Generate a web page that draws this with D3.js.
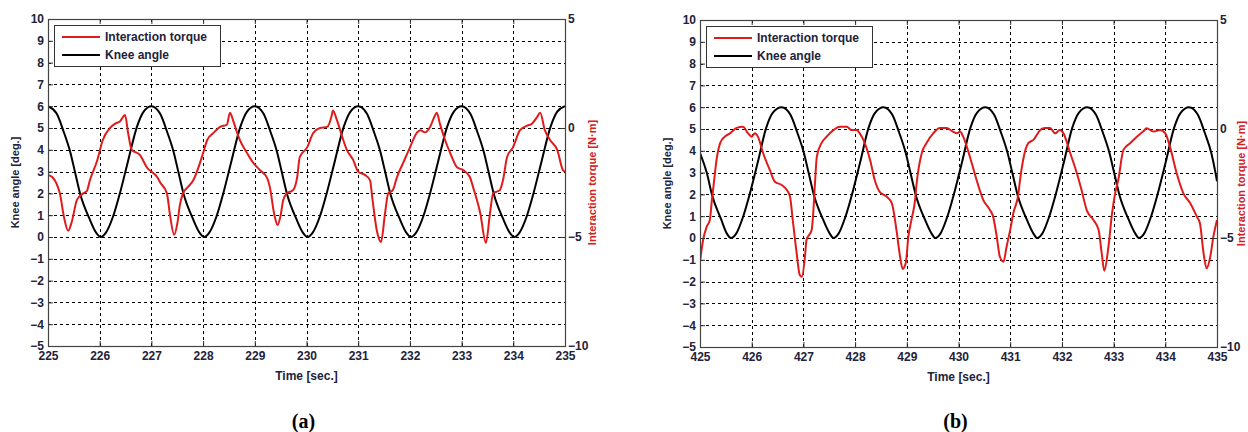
<!DOCTYPE html>
<html>
<head>
<meta charset="utf-8">
<script src="https://cdn.jsdelivr.net/npm/d3@7"></script>
<style>
  body { margin: 0; background: #fff; }
  svg { display: block; }
</style>
</head>
<body>
<div id="chart"></div>
<script>
// tick values
const angleTicks = [-5, -4, -3, -2, -1, 0, 1, 2, 3, 4, 5, 6, 7, 8, 9, 10];
const torqueTicks = [-10, -5, 0, 5];
const timeTicksA = [225, 226, 227, 228, 229, 230, 231, 232, 233, 234, 235];
const timeTicksB = [425, 426, 427, 428, 429, 430, 431, 432, 433, 434, 435];
const legendLabels = ["Interaction torque", "Knee angle"];

// knee angle [deg.] — [time, value]
const kneeA = [
  [225, 6], [225.17, 5.65], [225.3, 4.85], [225.43, 3.9], [225.52, 3.0], [225.62, 2.0], [225.8, 0.85], [225.93, 0.2],
  [226.02, 0], [226.12, 0.2], [226.26, 0.95], [226.39, 2.0], [226.55, 3.5], [226.72, 5.05], [226.85, 5.75],
  [227, 6], [227.17, 5.65], [227.3, 4.85], [227.43, 3.9], [227.52, 3.0], [227.62, 2.0], [227.8, 0.85], [227.93, 0.2],
  [228.02, 0], [228.12, 0.2], [228.26, 0.95], [228.39, 2.0], [228.55, 3.5], [228.72, 5.05], [228.85, 5.75],
  [229, 6], [229.17, 5.65], [229.3, 4.85], [229.43, 3.9], [229.52, 3.0], [229.62, 2.0], [229.8, 0.85], [229.93, 0.2],
  [230.02, 0], [230.12, 0.2], [230.26, 0.95], [230.39, 2.0], [230.55, 3.5], [230.72, 5.05], [230.85, 5.75],
  [231, 6], [231.17, 5.65], [231.3, 4.85], [231.43, 3.9], [231.52, 3.0], [231.62, 2.0], [231.8, 0.85], [231.93, 0.2],
  [232.02, 0], [232.12, 0.2], [232.26, 0.95], [232.39, 2.0], [232.55, 3.5], [232.72, 5.05], [232.85, 5.75],
  [233, 6], [233.17, 5.65], [233.3, 4.85], [233.43, 3.9], [233.52, 3.0], [233.62, 2.0], [233.8, 0.85], [233.93, 0.2],
  [234.02, 0], [234.12, 0.2], [234.26, 0.95], [234.39, 2.0], [234.55, 3.5], [234.72, 5.05], [234.85, 5.75],
  [235, 6]
];

// interaction torque [N·m] — panel (a)
const torqueA = [
  [225.00, -2.16], [225.08, -2.25], [225.19, -2.7], [225.23, -3.0], [225.31, -4.1], [225.39, -4.71], [225.46, -4.3],
  [225.56, -3.3], [225.68, -3.0], [225.75, -2.9], [225.81, -2.4], [225.95, -1.5], [226.06, -0.55], [226.20, 0.0],
  [226.30, 0.2], [226.39, 0.3], [226.49, 0.6], [226.55, -0.23], [226.62, -1.0], [226.78, -1.24], [226.91, -1.8],
  [227.11, -2.25], [227.17, -2.5], [227.30, -3.0], [227.36, -4.0], [227.44, -4.9], [227.50, -4.4], [227.55, -3.55],
  [227.61, -3.0], [227.69, -2.75], [227.81, -2.4], [227.94, -1.6], [228.00, -1.15], [228.08, -0.55], [228.20, -0.23],
  [228.33, 0.05], [228.46, 0.15], [228.52, 0.7], [228.58, 0.35], [228.66, -0.23], [228.71, -0.55], [228.85, -1.15],
  [228.97, -1.6], [229.10, -1.93], [229.24, -2.3], [229.29, -2.7], [229.38, -4.0], [229.44, -4.45], [229.50, -4.0],
  [229.55, -3.3], [229.62, -3.0], [229.74, -2.85], [229.82, -2.25], [229.87, -1.33], [230.01, -0.9], [230.13, -0.23],
  [230.26, 0.0], [230.40, 0.05], [230.49, 0.6], [230.51, 0.8], [230.59, 0.35], [230.69, -0.4], [230.78, -1.0],
  [230.90, -1.45], [231.00, -2.0], [231.13, -2.15], [231.23, -2.4], [231.27, -3.15], [231.36, -4.7], [231.44, -5.23],
  [231.52, -3.9], [231.58, -3.0], [231.67, -2.85], [231.75, -2.25], [231.87, -1.6], [232.00, -0.9], [232.14, -0.2],
  [232.20, -0.1], [232.29, -0.2], [232.39, 0.05], [232.49, 0.6], [232.52, 0.7], [232.58, 0.2], [232.68, -0.55],
  [232.78, -1.15], [232.91, -1.8], [233.03, -1.93], [233.16, -2.25], [233.22, -2.7], [233.36, -3.9], [233.47, -5.27],
  [233.55, -3.9], [233.61, -3.0], [233.74, -2.85], [233.80, -2.4], [233.88, -1.33], [233.99, -0.9], [234.13, -0.1],
  [234.26, 0.1], [234.36, 0.2], [234.46, 0.5], [234.52, 0.7], [234.61, -0.1], [234.71, -0.55], [234.85, -1.0],
  [234.96, -1.93], [235.00, -2.0]
];

// knee angle [deg.] — panel (b)
const kneeB = [
  [425, 3.9], [425.13, 3.0], [425.23, 2.0], [425.41, 0.85], [425.52, 0.2],
  [425.6, 0], [425.7, 0.2], [425.83, 0.95], [425.96, 2.0], [426.12, 3.5], [426.28, 5.05], [426.41, 5.75],
  [426.58, 6], [426.75, 5.65], [426.88, 4.85], [427.01, 3.9], [427.1, 3.0], [427.2, 2.0], [427.38, 0.85], [427.51, 0.2],
  [427.58, 0], [427.68, 0.2], [427.81, 0.95], [427.94, 2.0], [428.1, 3.5], [428.26, 5.05], [428.39, 5.75],
  [428.55, 6], [428.72, 5.65], [428.85, 4.85], [428.98, 3.9], [429.07, 3.0], [429.17, 2.0], [429.35, 0.85], [429.48, 0.2],
  [429.55, 0], [429.65, 0.2], [429.78, 0.95], [429.91, 2.0], [430.07, 3.5], [430.23, 5.05], [430.36, 5.75],
  [430.52, 6], [430.69, 5.65], [430.82, 4.85], [430.95, 3.9], [431.04, 3.0], [431.14, 2.0], [431.32, 0.85], [431.45, 0.2],
  [431.52, 0], [431.62, 0.2], [431.75, 0.95], [431.88, 2.0], [432.04, 3.5], [432.2, 5.05], [432.33, 5.75],
  [432.49, 6], [432.66, 5.65], [432.79, 4.85], [432.92, 3.9], [433.01, 3.0], [433.11, 2.0], [433.29, 0.85], [433.42, 0.2],
  [433.49, 0], [433.59, 0.2], [433.72, 0.95], [433.85, 2.0], [434.01, 3.5], [434.17, 5.05], [434.3, 5.75],
  [434.46, 6], [434.63, 5.65], [434.76, 4.85], [434.89, 3.9], [434.97, 3.0], [435, 2.6]
];

// interaction torque [N·m] — panel (b)
const torqueB = [
  [425.00, -6.09], [425.06, -5.09], [425.13, -4.48], [425.19, -4.17], [425.23, -3.26], [425.26, -2.65], [425.32, -1.42],
  [425.39, -0.65], [425.48, -0.35], [425.58, -0.2], [425.71, 0.05], [425.83, 0.1], [425.93, -0.2], [426.00, -0.35],
  [426.06, -0.2], [426.12, -0.35], [426.22, -1.1], [426.35, -1.88], [426.45, -2.42], [426.58, -2.57], [426.68, -2.8],
  [426.74, -3.1], [426.80, -4.3], [426.87, -5.7], [426.93, -6.7], [426.97, -6.78], [427.03, -5.86], [427.06, -5.09],
  [427.16, -4.63], [427.19, -3.87], [427.22, -2.65], [427.26, -1.27], [427.35, -0.65], [427.45, -0.35], [427.58, -0.05],
  [427.71, 0.1], [427.84, 0.1], [427.93, -0.05], [428.03, -0.05], [428.09, -0.2], [428.16, -0.5], [428.29, -1.42],
  [428.38, -2.34], [428.48, -2.9], [428.61, -3.1], [428.71, -3.4], [428.80, -4.63], [428.87, -5.86], [428.92, -6.42],
  [428.98, -6.15], [429.03, -4.94], [429.09, -4.17], [429.16, -3.26], [429.19, -2.5], [429.29, -1.1], [429.38, -0.65],
  [429.51, -0.2], [429.64, 0.05], [429.77, 0.05], [429.89, -0.12], [429.97, -0.2], [430.03, -0.12], [430.09, -0.35],
  [430.22, -1.27], [430.35, -2.34], [430.48, -3.26], [430.61, -3.72], [430.67, -4.02], [430.74, -4.94], [430.80, -5.86],
  [430.87, -6.09], [430.93, -5.4], [431.00, -4.63], [431.06, -3.87], [431.16, -2.95], [431.19, -2.34], [431.25, -1.42],
  [431.35, -0.65], [431.45, -0.5], [431.58, -0.05], [431.67, 0.05], [431.77, 0.05], [431.87, -0.2], [431.96, -0.05],
  [432.03, -0.2], [432.16, -1.1], [432.29, -2.03], [432.38, -2.8], [432.48, -3.72], [432.61, -4.17], [432.71, -4.63],
  [432.77, -5.7], [432.82, -6.5], [432.90, -5.4], [432.97, -3.87], [433.03, -2.95], [433.09, -2.34], [433.19, -0.96],
  [433.32, -0.65], [433.45, -0.35], [433.57, -0.12], [433.64, 0.03], [433.77, -0.12], [433.90, -0.05], [434.00, -0.2],
  [434.09, -0.81], [434.22, -2.03], [434.35, -2.95], [434.48, -3.4], [434.61, -4.02], [434.67, -4.32], [434.74, -5.7],
  [434.80, -6.39], [434.87, -5.86], [434.93, -4.94], [435.00, -4.17]
];

const W = 1248, H = 432;
const red = "#e01b1b";
const font = "'Liberation Sans', Arial, sans-serif";
const tickColor = "#22223a";

const svg = d3.select("#chart")
  .append("svg")
  .attr("width", W)
  .attr("height", H)
  .style("background", "#fff");

function drawPanel(svg, opts) {
  const { id, left, top, width, height, timeTicks, knee, torque, caption, torqueLabelGap = 27 } = opts;
  const right = left + width, bottom = top + height;

  const x = d3.scaleLinear().domain(d3.extent(timeTicks)).range([left, right]);
  const y = d3.scaleLinear().domain([-5, 10]).range([bottom, top]);
  const y2 = d3.scaleLinear().domain([-10, 5]).range([bottom, top]);

  const g = svg.append("g");

  g.append("rect")
    .attr("x", left).attr("y", top)
    .attr("width", width).attr("height", height)
    .attr("fill", "#fff");

  // dashed grid
  g.append("g")
    .selectAll("line")
    .data(timeTicks.slice(1, -1))
    .enter().append("line")
    .attr("x1", (d) => Math.round(x(d)) + 0.5).attr("x2", (d) => Math.round(x(d)) + 0.5)
    .attr("y1", top).attr("y2", bottom)
    .attr("stroke", "#000").attr("stroke-width", 1).attr("stroke-dasharray", "3,3");

  g.append("g")
    .selectAll("line")
    .data(angleTicks.slice(1, -1))
    .enter().append("line")
    .attr("y1", (d) => Math.round(y(d)) + 0.5).attr("y2", (d) => Math.round(y(d)) + 0.5)
    .attr("x1", left).attr("x2", right)
    .attr("stroke", "#000").attr("stroke-width", 1).attr("stroke-dasharray", "3,3");

  // curves
  const clipId = `clip-${id}`;
  svg.append("clipPath").attr("id", clipId)
    .append("rect").attr("x", left).attr("y", top).attr("width", width).attr("height", height);

  const kneeLine = d3.line()
    .x((d) => x(d[0]))
    .y((d) => y(d[1]))
    .curve(d3.curveMonotoneX);

  const torqueLine = d3.line()
    .x((d) => x(d[0]))
    .y((d) => y2(d[1]))
    .curve(d3.curveMonotoneX);

  g.append("path")
    .datum(knee)
    .attr("clip-path", `url(#${clipId})`)
    .attr("d", kneeLine)
    .attr("fill", "none").attr("stroke", "#000").attr("stroke-width", 2);

  g.append("path")
    .datum(torque)
    .attr("clip-path", `url(#${clipId})`)
    .attr("d", torqueLine)
    .attr("fill", "none").attr("stroke", red).attr("stroke-width", 2);

  // axes
  const styleAxis = (sel) => {
    sel.select(".domain").remove();
    sel.selectAll(".tick line").attr("stroke", "#333");
    sel.selectAll(".tick text")
      .attr("fill", tickColor)
      .style("font-family", font)
      .style("font-size", "12px")
      .style("font-weight", "bold");
  };

  g.append("g")
    .attr("transform", `translate(${left},0)`)
    .call(d3.axisLeft(y).tickValues(angleTicks).tickSize(-5).tickPadding(4))
    .call(styleAxis);

  g.append("g")
    .attr("transform", `translate(0,${bottom})`)
    .call(d3.axisBottom(x).tickValues(timeTicks).tickSize(-5).tickPadding(5))
    .call(styleAxis);

  g.append("g")
    .attr("transform", `translate(0,${top})`)
    .call(d3.axisTop(x).tickValues(timeTicks).tickSize(-5).tickFormat(""))
    .call(styleAxis);

  g.append("g")
    .attr("transform", `translate(${right},0)`)
    .call(d3.axisRight(y2).tickValues(torqueTicks).tickSize(-5).tickPadding(3))
    .call(styleAxis);

  g.append("rect")
    .attr("x", left + 0.5).attr("y", top + 0.5)
    .attr("width", width).attr("height", height)
    .attr("fill", "none").attr("stroke", "#444").attr("stroke-width", 1.2);

  // axis titles
  g.append("text")
    .attr("transform", `translate(${left - 33},${top + height / 2}) rotate(-90)`)
    .attr("text-anchor", "middle")
    .attr("dy", "0.35em")
    .text("Knee angle [deg.]")
    .style("font-family", font).style("font-size", "11px").style("font-weight", "bold")
    .attr("fill", tickColor);

  g.append("text")
    .attr("transform", `translate(${right + torqueLabelGap},${top + height / 2}) rotate(-90)`)
    .attr("text-anchor", "middle")
    .attr("dy", "0.35em")
    .text("Interaction torque [N·m]")
    .style("font-family", font).style("font-size", "11px").style("font-weight", "bold")
    .attr("fill", "#d42020");

  g.append("text")
    .attr("x", left + width / 2)
    .attr("y", bottom + 34)
    .attr("text-anchor", "middle")
    .text("Time [sec.]")
    .style("font-family", font).style("font-size", "12px").style("font-weight", "bold")
    .attr("fill", tickColor);

  // legend
  const lg = g.append("g").attr("transform", `translate(${left + 6},${top + 6})`);
  lg.append("rect")
    .attr("x", 0.5).attr("y", 0.5)
    .attr("width", 166).attr("height", 41)
    .attr("fill", "#fff").attr("stroke", "#333").attr("stroke-width", 1);

  const items = [
    { label: legendLabels[0], color: red },
    { label: legendLabels[1], color: "#000" },
  ];
  items.forEach((d, i) => {
    const yy = 12 + i * 18;
    lg.append("line")
      .attr("x1", 8).attr("x2", 46).attr("y1", yy).attr("y2", yy)
      .attr("stroke", d.color).attr("stroke-width", 2);
    lg.append("text")
      .attr("x", 51).attr("y", yy)
      .attr("dy", "0.35em")
      .text(d.label)
      .style("font-family", font).style("font-size", "12px").style("font-weight", "bold")
      .attr("fill", tickColor);
  });

  // caption
  g.append("text")
    .attr("x", left + width / 2 - 3)
    .attr("y", 428)
    .attr("text-anchor", "middle")
    .text(caption)
    .style("font-family", "'Liberation Serif', 'Times New Roman', serif")
    .style("font-size", "20px").style("font-weight", "bold")
    .attr("fill", "#000");
}

drawPanel(svg, { id: "a", left: 48, top: 19, width: 517, height: 327, timeTicks: timeTicksA, knee: kneeA, torque: torqueA, caption: "(a)" });
drawPanel(svg, { id: "b", left: 700, top: 20, width: 517, height: 327, timeTicks: timeTicksB, knee: kneeB, torque: torqueB, caption: "(b)", torqueLabelGap: 24 });
</script>
</body>
</html>
